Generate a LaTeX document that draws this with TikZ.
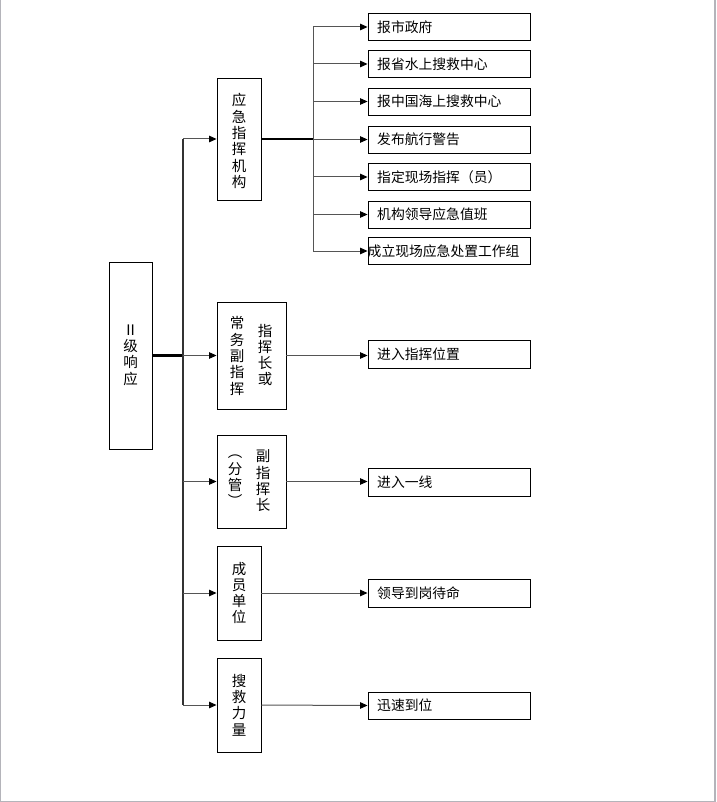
\documentclass[tikz,border=0pt]{standalone}
\usepackage{fontspec}
\newfontfamily\cjk{Noto Sans CJK SC}
\usetikzlibrary{arrows.meta}
\definecolor{lgray}{HTML}{555555}
\definecolor{edgegray}{HTML}{B4B4BA}
\tikzset{
  box/.style={draw=black, line width=0.9pt, inner sep=0pt, font=\cjk\fontsize{13.5}{16.3}\selectfont, align=center},
  hbox/.style={box, minimum width=162pt, minimum height=27pt},
  htext/.style={inner sep=0pt, anchor=west, font=\cjk\fontsize{13.8}{16}\selectfont},
  vtext/.style={inner sep=0pt, font=\cjk\fontsize{14.5}{16.3}\selectfont, align=center},
  thick line/.style={line width=2.2pt, black},
  thin line/.style={line width=1pt, lgray},
  arr/.style={thin line, -{Triangle[length=7.5pt,width=6.5pt,color=black,fill=black]}}
}
\begin{document}
\begin{tikzpicture}[x=1pt,y=-1pt]
\useasboundingbox (0,0) rectangle (716,802);
\fill[white] (0,0) rectangle (716,802);
% page border
\draw[edgegray, line width=1pt] (0.5,0) -- (0.5,801);
\draw[edgegray, line width=2pt] (715,0) -- (715,801);
\draw[edgegray, line width=1pt] (0,801.5) -- (716,801.5);

% root
\node[box, minimum width=43pt, minimum height=187pt] (root) at (130.5,355.5) {};
\node[vtext] (rootT) at (130.5,355) {Ⅱ\\级\\响\\应};

% second level
\node[box, minimum width=44pt, minimum height=122pt] (A) at (239,139) {};
\node[vtext] (AT) at (239,141) {应\\急\\指\\挥\\机\\构};

\node[box, minimum width=69pt, minimum height=107pt] (B) at (251.5,355.5) {};
\node[vtext] (BT1) at (265,355) {指\\挥\\长\\或};
\node[vtext] (BT2) at (237,356) {常\\务\\副\\指\\挥};

\node[box, minimum width=69pt, minimum height=93pt] (C) at (251.5,481.5) {};
\node[vtext] (CT1) at (263,481) {副\\指\\挥\\长};
\node[vtext] (CT2) at (235,481) {︵\\分\\管\\︶};

\node[box, minimum width=44pt, minimum height=94pt] (D) at (239,593) {};
\node[vtext] (DT) at (239,593) {成\\员\\单\\位};

\node[box, minimum width=44pt, minimum height=94pt] (E) at (239,705) {};
\node[vtext] (ET) at (239,705) {搜\\救\\力\\量};

% right boxes of A
\node[hbox] (r1) at (449,27) {};
\node[htext] at (377,27) {报市政府};
\node[hbox] (r2) at (449,64) {};
\node[htext] at (377,64) {报省水上搜救中心};
\node[hbox] (r3) at (449,101.5) {};
\node[htext] at (377,101.5) {报中国海上搜救中心};
\node[hbox] (r4) at (449,139.5) {};
\node[htext] at (377,139.5) {发布航行警告};
\node[hbox] (r5) at (449,177) {};
\node[htext] at (377,177) {指定现场指挥（员）};
\node[hbox] (r6) at (449,214.5) {};
\node[htext] at (377,214.5) {机构领导应急值班};
\node[hbox] (r7) at (449,251) {};
\node[htext] at (367.5,251) {成立现场应急处置工作组};

% targets
\node[hbox, minimum height=28pt] (t1) at (449,354) {};
\node[htext] at (377,354) {进入指挥位置};
\node[hbox, minimum height=28pt] (t2) at (449,482) {};
\node[htext] at (377,482) {进入一线};
\node[hbox, minimum height=28pt] (t3) at (449,593) {};
\node[htext] at (377,593) {领导到岗待命};
\node[hbox, minimum height=27pt] (t4) at (449,705.5) {};
\node[htext] at (377,705.5) {迅速到位};

% trunk
\coordinate (tr) at (183,0);
\coordinate (br) at (313,0);
\draw[thick line] (root.east) -- (root.east -| tr);
\draw[line width=1.6pt, black!80] (tr |- A.west) -- (tr |- E.west);
\foreach \n in {A,B,C,D,E}{
  \draw[arr] (tr |- \n.west) -- (\n.west);
}
% branch of A
\draw[thick line] (A.east) -- (A.east -| br);
\draw[thin line] (br |- r1.west) -- (br |- r7.west);
\foreach \n in {r1,r2,r3,r4,r5,r6,r7}{
  \draw[arr] (br |- \n.west) -- (\n.west);
}
% others
\draw[arr] (B.east) -- (B.east -| t1.west);
\draw[arr] (C.east) -- (C.east -| t2.west);
\draw[arr] (D.east) -- (t3.west);
\draw[arr] (E.east) -- (t4.west);
\end{tikzpicture}
\end{document}
